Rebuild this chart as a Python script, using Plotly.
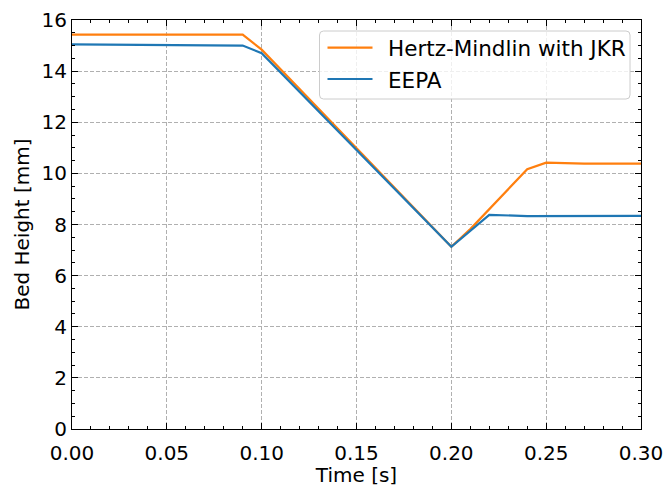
import plotly.graph_objects as go

time_jkr = [0.00, 0.09, 0.10, 0.20, 0.21, 0.24, 0.25, 0.27, 0.30]
height_jkr = [15.43, 15.43, 14.84, 7.13, 7.82, 10.16, 10.42, 10.38, 10.38]

time_eepa = [0.00, 0.09, 0.10, 0.20, 0.22, 0.24, 0.30]
height_eepa = [15.05, 15.00, 14.70, 7.13, 8.38, 8.33, 8.34]

series_names = ["Hertz-Mindlin with JKR", "EEPA"]
series_colors = ["#ff7f0e", "#1f77b4"]

x_ticks = [0.00, 0.05, 0.10, 0.15, 0.20, 0.25, 0.30]
x_ticklabels = ["0.00", "0.05", "0.10", "0.15", "0.20", "0.25", "0.30"]
y_ticks = [0, 2, 4, 6, 8, 10, 12, 14, 16]

font = "DejaVu Sans"
fs = 20
fs_legend = 21.5

W, H = 666, 487
ML, MR, MT, MB = 72, 25, 20, 58
PW, PH = W - ML - MR, H - MT - MB


def px(xp):
    return (xp - ML) / PW


def py(yp):
    return (H - MB - yp) / PH


fig = go.Figure()
fig.add_trace(go.Scatter(x=time_jkr, y=height_jkr, mode="lines",
                         name=series_names[0],
                         line=dict(color=series_colors[0], width=2.2)))
fig.add_trace(go.Scatter(x=time_eepa, y=height_eepa, mode="lines",
                         name=series_names[1],
                         line=dict(color=series_colors[1], width=2.2)))

axis_common = dict(
    showline=True, linecolor="black", linewidth=1.2, mirror="allticks",
    ticks="inside", ticklen=6, tickwidth=1.2, tickcolor="black",
    showgrid=True, gridcolor="#b0b0b0", griddash="4px,2px", gridwidth=1,
    zeroline=False, automargin=False,
    tickfont=dict(family=font, size=fs, color="black"),
)

fig.update_xaxes(range=[0, 0.3], tickvals=x_ticks, ticktext=x_ticklabels,
                 ticklabelstandoff=6,
                 title=dict(text="Time [s]", font=dict(family=font, size=fs, color="black"), standoff=0),
                 minor=dict(ticks="inside", dtick=0.01, ticklen=3, tickcolor="black", showgrid=False),
                 **axis_common)
fig.update_yaxes(range=[0, 16], tickvals=y_ticks,
                 title=dict(text="Bed Height [mm]", font=dict(family=font, size=fs, color="black"), standoff=6),
                 minor=dict(ticks="inside", dtick=0.5, ticklen=3, tickcolor="black", showgrid=False),
                 **axis_common)

# manual legend box (matplotlib-style, rounded)
x0, x1 = px(319.5), px(630)
y1, y0 = py(31), py(99)
rx, ry = 4 / PW, 4 / PH
path = (f"M {x0+rx},{y1} L {x1-rx},{y1} Q {x1},{y1} {x1},{y1-ry} "
        f"L {x1},{y0+ry} Q {x1},{y0} {x1-rx},{y0} L {x0+rx},{y0} "
        f"Q {x0},{y0} {x0},{y0+ry} L {x0},{y1-ry} Q {x0},{y1} {x0+rx},{y1} Z")
shapes = [dict(type="path", xref="paper", yref="paper", path=path,
               fillcolor="rgba(255,255,255,0.8)", line=dict(color="#cccccc", width=1),
               layer="above")]
annotations = []
row_y = [47.7, 79.0]
for name, color, yy in zip(series_names, series_colors, row_y):
    shapes.append(dict(type="line", xref="paper", yref="paper",
                       x0=px(327.5), x1=px(372.5), y0=py(yy), y1=py(yy),
                       line=dict(color=color, width=2.2), layer="above"))
    annotations.append(dict(xref="paper", yref="paper", x=px(386), y=py(yy + 1),
                            text=name, showarrow=False, xanchor="left", yanchor="middle",
                            font=dict(family=font, size=fs_legend, color="black")))

fig.update_layout(
    width=W, height=H,
    margin=dict(l=ML, r=MR, t=MT, b=MB),
    plot_bgcolor="white", paper_bgcolor="white",
    font=dict(family=font, size=fs, color="black"),
    showlegend=False,
    shapes=shapes,
    annotations=annotations,
)

fig.write_html("out.html")
